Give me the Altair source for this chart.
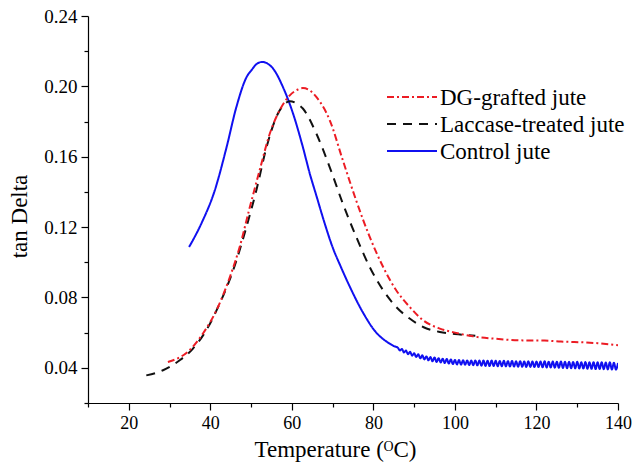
import altair as alt
import pandas as pd
import numpy as np

# ---- data ----
series_names = ["DG-grafted jute", "Laccase-treated jute", "Control jute"]

dg_t = [29.6, 34.9, 38.2, 41.5, 44.8, 47.2, 49.7, 52.1, 54.6, 57.0, 59.5, 61.5, 62.7, 64.5,
        66.0, 69.3, 72.5, 75.8, 79.1, 82.4, 85.6, 88.9, 92.2, 96.3, 100.0, 104.4, 110.0,
        116.7, 122.0, 126.0, 129.0, 135.0, 140.0]
dg_v = [0.0433, 0.0500, 0.0595, 0.0727, 0.0916, 0.1087, 0.1314, 0.1523, 0.1732, 0.1864,
        0.1949, 0.1982, 0.1990, 0.1975, 0.1940, 0.1807, 0.1580, 0.1350, 0.1144, 0.0973,
        0.0841, 0.0746, 0.0670, 0.0623, 0.0600, 0.0579, 0.0565, 0.0556, 0.0555, 0.0549,
        0.0547, 0.0540, 0.0528]

lac_t = [24.3, 28.4, 32.5, 35.75, 39.0, 42.3, 45.6, 48.85, 51.3, 53.8, 56.2, 58.0, 59.5,
         61.0, 62.7, 66.0, 69.3, 72.5, 75.8, 79.1, 82.4, 85.6, 88.9, 92.2, 96.3, 100.0, 105.0]
lac_v = [0.0357, 0.0386, 0.0443, 0.0509, 0.0613, 0.0765, 0.0954, 0.1200, 0.1410, 0.1655,
         0.1826, 0.1895, 0.1915, 0.1905, 0.1874, 0.1732, 0.1540, 0.1334, 0.1144, 0.0973,
         0.0841, 0.0746, 0.0680, 0.0632, 0.0604, 0.0592, 0.0582]

ctl_t = [34.8, 37.8, 41.1, 44.0, 46.4, 48.9, 50.2, 51.3, 52.8, 54.0, 55.4, 57.8, 60.3, 62.7,
         64.4, 66.0, 68.0, 70.0, 72.0, 74.2, 77.5, 80.7, 83.0, 85.0]
ctl_v = [0.1087, 0.1220, 0.1409, 0.1655, 0.1883, 0.2053, 0.2095, 0.2126, 0.2139, 0.2130,
         0.2101, 0.1997, 0.1845, 0.1655, 0.1504, 0.1380, 0.1225, 0.1085, 0.0975, 0.0862,
         0.0712, 0.0600, 0.0553, 0.0524]
# noisy tail of the control curve, 86.0 .. 140.0 every 0.5 degC
ctl_tail_t = list(np.arange(86.0, 140.01, 0.5))
ctl_tail_v = [
    0.0514, 0.0499, 0.0507, 0.0487, 0.0498, 0.0477, 0.0491, 0.0469, 0.0483, 0.0462,
    0.0477, 0.0454, 0.0471, 0.0448, 0.0465, 0.0443, 0.0461, 0.0437, 0.0459, 0.0433,
    0.0455, 0.0430, 0.0452, 0.0427, 0.0450, 0.0424, 0.0448, 0.0421, 0.0445, 0.0419,
    0.0444, 0.0418, 0.0443, 0.0417, 0.0442, 0.0416, 0.0441, 0.0415, 0.0442, 0.0414,
    0.0441, 0.0412, 0.0441, 0.0411, 0.0440, 0.0410, 0.0441, 0.0410, 0.0440, 0.0409,
    0.0439, 0.0409, 0.0440, 0.0408, 0.0438, 0.0407, 0.0439, 0.0407, 0.0437, 0.0406,
    0.0438, 0.0406, 0.0436, 0.0405, 0.0437, 0.0405, 0.0436, 0.0404, 0.0436, 0.0404,
    0.0436, 0.0403, 0.0437, 0.0402, 0.0435, 0.0402, 0.0436, 0.0401, 0.0435, 0.0400,
    0.0436, 0.0399, 0.0434, 0.0398, 0.0435, 0.0397, 0.0433, 0.0397, 0.0434, 0.0396,
    0.0432, 0.0396, 0.0433, 0.0395, 0.0431, 0.0394, 0.0432, 0.0393, 0.0431, 0.0393,
    0.0432, 0.0392, 0.0430, 0.0391, 0.0431, 0.0390, 0.0429, 0.0390, 0.0428,
]

x_ticks = [10, 20, 30, 40, 50, 60, 70, 80, 90, 100, 110, 120, 130, 140]
y_ticks = [0.02, 0.04, 0.06, 0.08, 0.10, 0.12, 0.14, 0.16, 0.18, 0.20, 0.22, 0.24]

# ---- styling ----
FONT = "Liberation Serif"
colors = ["#ec1c24", "#111111", "#1010f0"]
dashes = [[7, 3, 2, 3], [9, 7], [1, 0]]

W, H = 530, 387

df_dg = pd.DataFrame({"T": dg_t, "v": dg_v, "s": series_names[0]})
df_lac = pd.DataFrame({"T": lac_t, "v": lac_v, "s": series_names[1]})
df_ctl = pd.DataFrame({"T": ctl_t + ctl_tail_t, "v": ctl_v + ctl_tail_v, "s": series_names[2]})

xscale = alt.Scale(domain=[10, 140], nice=False, zero=False)
yscale = alt.Scale(domain=[0.02, 0.24], nice=False, zero=False)

xaxis = alt.Axis(
    values=x_ticks,
    labelExpr="datum.value % 20 == 0 ? datum.value : ''",
    tickSize={"condition": {"test": "datum.value % 20 == 0", "value": 7}, "value": 4},
    grid=False, domainColor="black", tickColor="black", domainWidth=1.2, tickWidth=1.2,
    labelFont=FONT, labelFontSize=18, labelColor="black", labelPadding=4,
    labelOverlap=False, labelFlush=False,
    title="Temperature (ᴼC)", titleFont=FONT, titleFontSize=23, titleFontWeight="normal",
    titleColor="black", titleX=247, titleY=53, titleAlign="center", titleBaseline="alphabetic",
)
yaxis = alt.Axis(
    values=y_ticks,
    labelExpr="round(datum.value*100) % 4 == 0 ? format(datum.value, '.2f') : ''",
    tickSize={"condition": {"test": "round(datum.value*100) % 4 == 0", "value": 7}, "value": 4},
    grid=False, domainColor="black", tickColor="black", domainWidth=1.2, tickWidth=1.2,
    labelFont=FONT, labelFontSize=19, labelColor="black", labelPadding=4,
    labelOverlap=False, labelFlush=False,
    title="tan Delta", titleFont=FONT, titleFontSize=23, titleFontWeight="normal",
    titleColor="black", titleAngle=270, titleX=-62, titleY=200, titleAlign="center",
    titleBaseline="alphabetic",
)


def line(df, i):
    return alt.Chart(df).mark_line(
        color=colors[i], strokeDash=dashes[i], strokeWidth=2, interpolate="monotone", clip=True
    ).encode(
        x=alt.X("T:Q", scale=xscale, axis=xaxis),
        y=alt.Y("v:Q", scale=yscale, axis=yaxis),
    )


layers = [line(df_ctl, 2), line(df_lac, 1), line(df_dg, 0)]

# legend drawn by hand
leg_y = [81, 108, 135]
for i, name in enumerate(series_names):
    ldf = pd.DataFrame({"s": [name]})
    layers.append(
        alt.Chart(ldf).mark_rule(color=colors[i], strokeDash=dashes[i], strokeWidth=2).encode(
            x=alt.value(299), x2=alt.value(349), y=alt.value(leg_y[i])
        )
    )
    layers.append(
        alt.Chart(ldf).mark_text(
            align="left", baseline="middle", font=FONT, fontSize=23, color="black"
        ).encode(x=alt.value(352), y=alt.value(leg_y[i] + 1), text="s:N")
    )

chart = alt.layer(*layers).properties(
    width=W, height=H,
    autosize=alt.AutoSizeParams(type="none"),
    padding={"left": 88, "top": 16, "right": 16, "bottom": 62},
    background="white",
).configure_view(stroke=None)

chart.save("out.html", embed_options={"renderer": "svg", "actions": False})
